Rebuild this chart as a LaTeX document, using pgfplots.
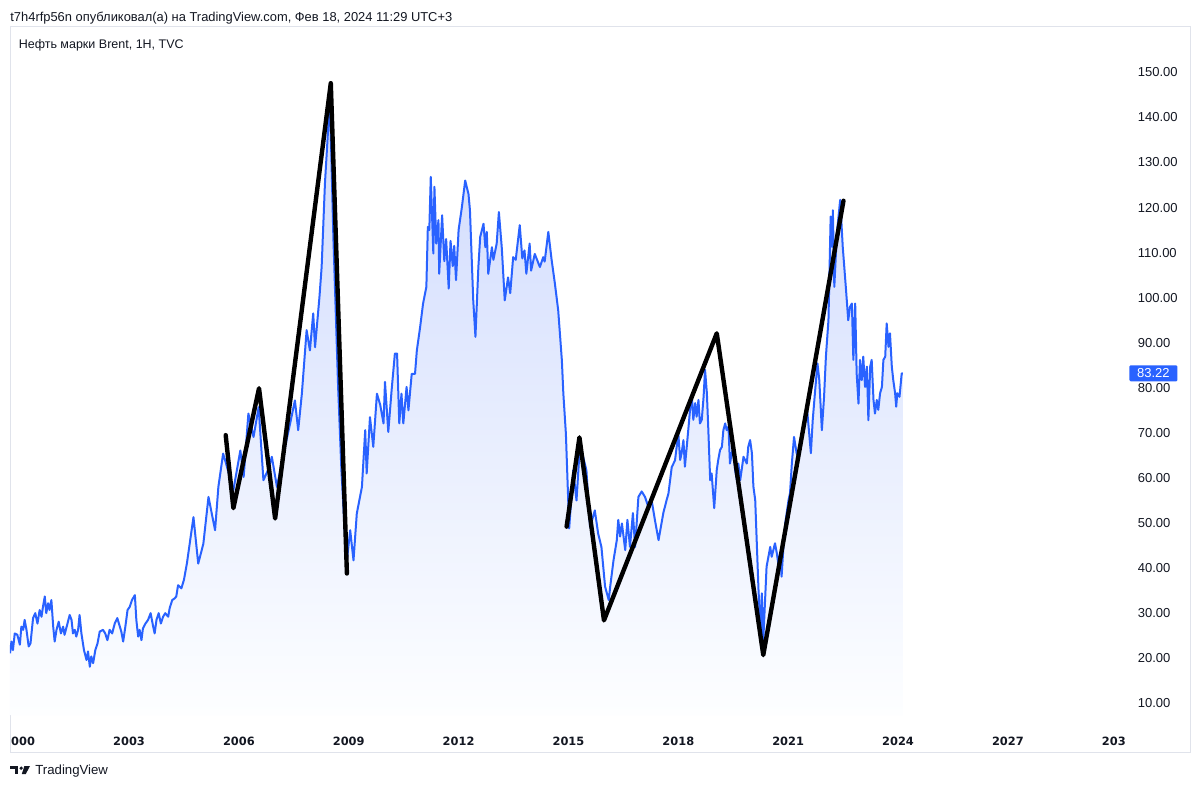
\documentclass[border=0pt]{standalone}
\usepackage{fontspec}
\setmainfont{Liberation Sans}
\newfontfamily\dejavu{DejaVu Sans}
\usepackage{pgfplots}
\usepackage{pgfplotstable}
\pgfplotsset{compat=1.18}
\definecolor{tvblue}{HTML}{2962FF}
\definecolor{tvtext}{HTML}{131722}
\definecolor{tvframe}{HTML}{E0E3EB}
\definecolor{filltop}{RGB}{207,218,253}
\definecolor{fillbot}{RGB}{253,254,255}

% Brent (year, USD)
\pgfplotstableread{
x y
1999.75 21.1
1999.79 23.7
1999.83 21.8
1999.88 25.5
1999.95 25.2
2000.02 23.0
2000.06 27.0
2000.11 26.3
2000.15 28.5
2000.20 26.3
2000.26 22.6
2000.31 23.3
2000.38 28.9
2000.44 30.0
2000.50 27.7
2000.56 30.7
2000.61 29.2
2000.65 31.4
2000.70 33.7
2000.74 30.0
2000.79 32.2
2000.83 30.7
2000.88 32.9
2000.93 27.0
2000.97 23.7
2001.02 26.3
2001.08 28.1
2001.14 25.5
2001.20 27.0
2001.24 25.2
2001.32 27.7
2001.38 29.6
2001.43 28.5
2001.47 25.5
2001.52 26.3
2001.56 24.8
2001.61 26.3
2001.65 29.6
2001.70 25.5
2001.77 21.8
2001.84 19.6
2001.88 21.5
2001.93 18.1
2001.97 20.4
2002.02 18.9
2002.08 21.8
2002.14 23.3
2002.20 25.9
2002.29 26.3
2002.35 25.5
2002.41 24.0
2002.47 26.3
2002.54 25.5
2002.61 27.7
2002.68 28.9
2002.75 27.0
2002.79 25.9
2002.84 23.7
2002.90 27.0
2002.96 30.7
2003.02 31.4
2003.08 32.9
2003.16 34.0
2003.20 28.5
2003.25 24.8
2003.29 26.3
2003.34 24.0
2003.38 26.6
2003.45 27.7
2003.52 28.5
2003.59 30.0
2003.66 27.0
2003.70 25.5
2003.75 28.5
2003.81 30.0
2003.87 27.7
2003.93 29.2
2003.99 30.0
2004.07 29.2
2004.11 31.1
2004.18 32.9
2004.25 33.3
2004.29 33.7
2004.34 36.2
2004.43 35.5
2004.50 37.4
2004.58 41.0
2004.76 51.3
2004.89 41.0
2005.03 45.4
2005.17 55.8
2005.35 48.4
2005.44 58.0
2005.57 65.4
2005.65 63.2
2005.85 57.3
2006.04 66.1
2006.13 60.2
2006.26 74.3
2006.40 69.1
2006.54 75.7
2006.67 59.5
2006.81 62.0
2006.90 64.7
2007.04 58.0
2007.22 65.4
2007.40 72.1
2007.53 77.2
2007.62 70.6
2007.72 78.7
2007.85 92.8
2007.94 88.3
2008.03 96.5
2008.08 89.0
2008.20 100.1
2008.26 106.8
2008.35 125.3
2008.44 137.8
2008.49 143.0
2008.58 113.5
2008.71 80.2
2008.80 61.7
2008.94 41.0
2009.04 48.4
2009.13 41.7
2009.22 52.1
2009.36 58.0
2009.45 70.6
2009.49 61.0
2009.58 73.5
2009.67 66.9
2009.77 78.7
2009.86 76.2
2009.95 72.1
2009.99 81.3
2010.08 70.2
2010.17 79.4
2010.26 87.6
2010.32 87.6
2010.38 72.1
2010.44 78.7
2010.49 72.1
2010.58 80.2
2010.63 75.0
2010.72 83.1
2010.81 83.1
2010.86 88.3
2010.95 93.5
2011.03 98.7
2011.12 102.4
2011.16 115.7
2011.20 115.0
2011.24 126.8
2011.31 109.8
2011.34 124.6
2011.39 112.0
2011.45 117.2
2011.47 105.3
2011.55 118.3
2011.61 108.1
2011.66 113.0
2011.73 102.0
2011.78 112.6
2011.84 107.0
2011.88 111.5
2011.93 103.9
2012.00 115.0
2012.09 120.1
2012.18 126.0
2012.27 123.0
2012.31 119.4
2012.40 99.4
2012.46 91.3
2012.54 106.8
2012.59 113.5
2012.68 116.4
2012.73 111.2
2012.77 114.6
2012.81 105.3
2012.91 111.2
2012.95 108.4
2013.04 112.0
2013.10 119.0
2013.18 111.0
2013.26 99.4
2013.35 104.5
2013.41 101.0
2013.49 109.0
2013.56 108.4
2013.67 116.1
2013.74 108.7
2013.80 110.5
2013.85 105.3
2013.94 112.0
2013.98 106.0
2014.08 109.7
2014.22 106.8
2014.31 109.0
2014.35 108.0
2014.45 114.6
2014.54 108.4
2014.63 103.1
2014.72 97.2
2014.82 86.1
2014.86 78.8
2014.93 69.8
2015.02 48.8
2015.13 61.7
2015.22 55.0
2015.31 66.9
2015.40 64.7
2015.49 61.7
2015.59 49.1
2015.72 52.8
2015.81 47.7
2015.90 44.7
2016.00 35.9
2016.10 32.9
2016.14 35.9
2016.23 41.7
2016.32 46.2
2016.36 50.7
2016.41 47.0
2016.46 49.9
2016.55 44.0
2016.61 50.7
2016.68 44.7
2016.76 52.2
2016.82 44.7
2016.91 55.8
2017.00 57.0
2017.09 55.8
2017.18 53.6
2017.27 55.1
2017.36 50.7
2017.46 46.2
2017.59 52.2
2017.68 55.1
2017.73 56.5
2017.82 62.4
2017.91 63.9
2018.00 69.9
2018.05 64.0
2018.09 65.5
2018.14 68.4
2018.18 62.5
2018.23 66.9
2018.28 71.4
2018.32 75.1
2018.37 78.0
2018.41 72.9
2018.46 76.6
2018.50 73.6
2018.55 77.3
2018.59 72.1
2018.64 72.9
2018.69 78.0
2018.73 84.0
2018.78 78.8
2018.82 70.6
2018.87 59.5
2018.91 61.0
2018.98 53.3
2019.05 61.8
2019.09 64.0
2019.14 66.2
2019.19 66.9
2019.23 70.6
2019.28 72.1
2019.32 70.6
2019.37 71.4
2019.41 63.2
2019.46 65.5
2019.50 66.9
2019.55 61.8
2019.60 59.5
2019.64 63.2
2019.69 59.5
2019.73 61.8
2019.78 64.7
2019.87 63.2
2019.91 66.9
2019.96 68.4
2020.01 65.5
2020.05 58.1
2020.10 55.1
2020.19 35.1
2020.25 25.5
2020.28 34.4
2020.32 24.0
2020.41 40.3
2020.51 44.7
2020.55 42.5
2020.64 45.5
2020.69 43.3
2020.73 41.0
2020.78 43.3
2020.82 38.1
2020.87 44.7
2020.92 49.9
2021.01 55.1
2021.05 56.6
2021.10 63.2
2021.16 69.1
2021.23 65.5
2021.28 64.7
2021.37 68.4
2021.46 74.3
2021.51 75.8
2021.55 72.1
2021.62 65.5
2021.67 72.8
2021.73 78.8
2021.80 85.4
2021.85 81.7
2021.92 70.6
2021.98 78.0
2022.03 86.9
2022.10 95.0
2022.16 118.0
2022.20 111.3
2022.22 119.4
2022.26 102.4
2022.33 114.3
2022.42 121.7
2022.49 111.3
2022.58 101.7
2022.64 95.0
2022.69 98.0
2022.74 98.7
2022.78 86.2
2022.83 98.7
2022.87 83.2
2022.92 76.5
2022.96 86.2
2023.01 81.7
2023.05 86.9
2023.10 80.2
2023.15 84.7
2023.19 72.8
2023.24 84.7
2023.28 86.2
2023.33 77.3
2023.37 74.3
2023.42 77.3
2023.46 75.1
2023.51 78.8
2023.56 80.2
2023.60 86.2
2023.65 86.9
2023.69 94.3
2023.74 89.1
2023.78 92.1
2023.83 84.7
2023.87 81.7
2023.92 78.8
2023.95 75.8
2023.98 78.8
2024.04 78.0
2024.10 83.2
2024.13 83.22
}\brent

% zigzag drawn over the chart
\pgfplotstableread{
x y
2005.64 69.5
2005.85 53.3
2006.55 79.9
2006.99 51.0
2008.51 147.6
2008.95 38.8
}\waveA
\pgfplotstableread{
x y
2014.95 49.2
2015.30 69.0
2015.97 28.4
2019.05 92.1
2020.32 20.7
2022.51 121.5
}\waveB

\begin{document}
\begin{tikzpicture}[x=1pt,y=1pt]
\useasboundingbox (0,0) rectangle (600,394.5);
\fill[white] (0,0) rectangle (600,394.5);
\draw[tvframe, line width=0.5pt] (5,18.5) rectangle (595,381);

\node[anchor=base west, inner sep=0pt, text=tvtext, font=\fontsize{6.45}{8}\selectfont]
  at (5,383.5) {t7h4rfp56n опубликовал(а) на TradingView.com, Фев 18, 2024 11:29 UTC+3};
\node[anchor=base west, inner sep=0pt, text=tvtext, font=\fontsize{6.25}{8}\selectfont]
  at (9.2,370.2) {Нефть марки Brent, 1H, TVC};

% logo
\fill[tvtext] (5,11.5) rectangle (9,10);
\fill[tvtext] (7.25,11.5) rectangle (9,7.5);
\fill[tvtext] (10.6,10.4) circle (0.9);
\fill[tvtext] (12.2,11.5) -- (15,11.5) -- (12.9,7.5) -- (10.9,7.5) -- cycle;
\node[anchor=base west, inner sep=0pt, text=tvtext, font=\fontsize{6.6}{8}\selectfont]
  at (17.5,7.2) {TradingView};

\begin{axis}[
  at={(5pt,37pt)}, anchor=south west,
  width=559pt, height=344pt, scale only axis,
  xmin=1999.75, xmax=2030.28, ymin=7.4, ymax=160.06,
  axis line style={draw=none},
  major tick length=0pt, tick style={draw=none},
  clip mode=individual,
  xtick={2000,2003,...,2030},
  xticklabels={\hphantom{2}000,2003,2006,2009,2012,2015,2018,2021,2024,2027,203\hphantom{0}},
  xticklabel style={anchor=base, inner sep=0pt, yshift=-15pt, text=tvtext,
    font=\dejavu\bfseries\fontsize{5.7}{7}\selectfont},
  ytick={10,20,...,150},
  yticklabel pos=right,
  yticklabel style={anchor=west, inner sep=0pt, xshift=4.75pt, text=tvtext,
    font=\fontsize{6.5}{8}\selectfont,
    /pgf/number format/.cd, fixed, fixed zerofill, precision=2, assume math mode=true},
]
\addplot[draw=none, top color=filltop, bottom color=fillbot, forget plot] table {\brent} \closedcycle;
\addplot[tvblue, line width=1pt, line join=round] table {\brent};
\addplot[black, line width=2.2pt, line join=round, line cap=round] table {\waveA};
\addplot[black, line width=2.2pt, line join=round, line cap=round] table {\waveB};
\node[fill=tvblue, text=white, inner sep=0pt, minimum width=24pt, minimum height=8pt,
  anchor=west, xshift=0.5pt, rounded corners=0.6pt, font=\fontsize{6.5}{8}\selectfont]
  at (axis cs:2030.28,83.22) {83.22};
\end{axis}
\end{tikzpicture}
\end{document}
